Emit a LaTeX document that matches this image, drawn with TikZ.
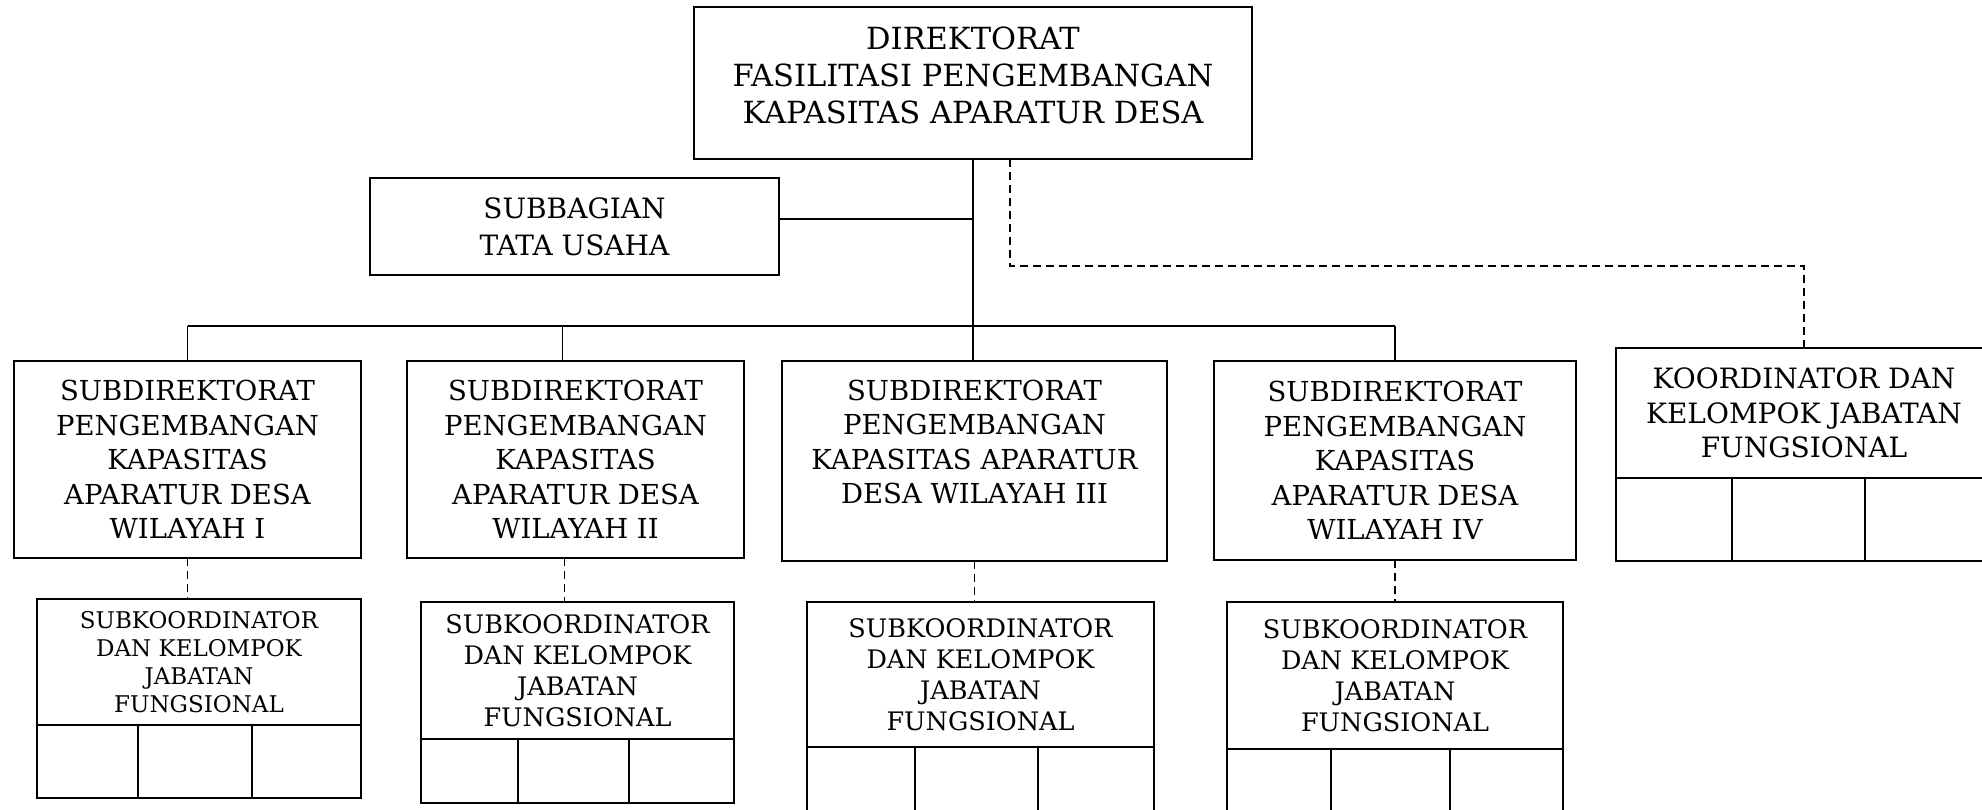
\documentclass[tikz,border=0pt]{standalone}
\usepackage{fontspec}
\setmainfont{DejaVu Serif}
\usetikzlibrary{positioning,calc}

\newcommand\txdir{\fontsize{30.5}{37}\selectfont}
\newcommand\txsub{\fontsize{28}{37}\selectfont}
\newcommand\txsd{\fontsize{27.5}{34.6}\selectfont}
\newcommand\txkoor{\fontsize{28}{34.2}\selectfont}
\newcommand\txska{\fontsize{23}{28}\selectfont}
\newcommand\txskb{\fontsize{25.5}{31}\selectfont}

\tikzset{
  box/.style={draw, line width=1.3pt, inner sep=0pt, outer sep=0pt, align=center, anchor=north west},
  lbl/.style={align=center, inner sep=0pt},
  link/.style={line width=1.3pt},
  dashlink/.style={line width=1.3pt, dash pattern=on 8pt off 5pt},
}

\begin{document}
\begin{tikzpicture}[x=1pt,y=-1pt]
\useasboundingbox (0,0) rectangle (1982,810);
\clip (0,0) rectangle (1982,810);

% direktorat and tata usaha
\node[box, minimum width=558pt, minimum height=152pt] (dir) at (694,7) {};
\node[lbl, font=\txdir] (dir-t) at ($(dir.center)+(0,-8)$) {DIREKTORAT\\FASILITASI PENGEMBANGAN\\KAPASITAS APARATUR DESA};
\node[box, font=\txsub, minimum width=409pt, minimum height=97pt] (tu) at (370,178) {SUBBAGIAN\\TATA USAHA};

% subdirektorat
\node[box, font=\txsd, minimum width=347pt, minimum height=197pt] (sd1) at (14,361) {SUBDIREKTORAT\\PENGEMBANGAN\\KAPASITAS\\APARATUR DESA\\WILAYAH I};
\node[box, font=\txsd, minimum width=337pt, minimum height=197pt] (sd2) at (407,361) {SUBDIREKTORAT\\PENGEMBANGAN\\KAPASITAS\\APARATUR DESA\\WILAYAH II};
\node[box, minimum width=385pt, minimum height=200pt] (sd3) at (782,361) {};
\node[lbl, font=\txsd] (sd3-t) at ($(sd3.center)+(0,-19)$) {SUBDIREKTORAT\\PENGEMBANGAN\\KAPASITAS APARATUR\\DESA WILAYAH III};
\node[box, font=\txsd, minimum width=362pt, minimum height=199pt] (sd4) at (1214,361) {SUBDIREKTORAT\\PENGEMBANGAN\\KAPASITAS\\APARATUR DESA\\WILAYAH IV};

% koordinator
\node[box, font=\txkoor, minimum width=376pt, minimum height=130pt] (koor) at (1616,348) {KOORDINATOR DAN\\KELOMPOK JABATAN\\FUNGSIONAL};
\node[box, minimum width=116pt, minimum height=83pt] (koor-a) at (koor.south west) {};
\node[box, minimum width=133pt, minimum height=83pt] (koor-b) at (koor-a.north east) {};
\node[box, minimum width=127pt, minimum height=83pt] (koor-c) at (koor-b.north east) {};

% subkoordinator
\node[box, font=\txska, minimum width=324pt, minimum height=126pt] (sk1) at (37,599) {SUBKOORDINATOR\\DAN KELOMPOK\\JABATAN\\FUNGSIONAL};
\node[box, minimum width=101pt, minimum height=73pt] (sk1-a) at (sk1.south west) {};
\node[box, minimum width=114pt, minimum height=73pt] (sk1-b) at (sk1-a.north east) {};
\node[box, minimum width=109pt, minimum height=73pt] (sk1-c) at (sk1-b.north east) {};

\node[box, font=\txskb, minimum width=313pt, minimum height=137pt] (sk2) at (421,602) {SUBKOORDINATOR\\DAN KELOMPOK\\JABATAN\\FUNGSIONAL};
\node[box, minimum width=97pt, minimum height=64pt] (sk2-a) at (sk2.south west) {};
\node[box, minimum width=111pt, minimum height=64pt] (sk2-b) at (sk2-a.north east) {};
\node[box, minimum width=105pt, minimum height=64pt] (sk2-c) at (sk2-b.north east) {};

\node[box, font=\txskb, minimum width=347pt, minimum height=145pt] (sk3) at (807,602) {SUBKOORDINATOR\\DAN KELOMPOK\\JABATAN\\FUNGSIONAL};
\node[box, minimum width=108pt, minimum height=80pt] (sk3-a) at (sk3.south west) {};
\node[box, minimum width=123pt, minimum height=80pt] (sk3-b) at (sk3-a.north east) {};
\node[box, minimum width=116pt, minimum height=80pt] (sk3-c) at (sk3-b.north east) {};

\node[box, font=\txskb, minimum width=336pt, minimum height=147pt] (sk4) at (1227,602) {SUBKOORDINATOR\\DAN KELOMPOK\\JABATAN\\FUNGSIONAL};
\node[box, minimum width=104pt, minimum height=80pt] (sk4-a) at (sk4.south west) {};
\node[box, minimum width=119pt, minimum height=80pt] (sk4-b) at (sk4-a.north east) {};
\node[box, minimum width=113pt, minimum height=80pt] (sk4-c) at (sk4-b.north east) {};

% solid lines
\coordinate (bus) at ($(dir.south)+(0,167)$);
\coordinate (tu-out) at ($(tu.east)+(0,-7.5)$);
\coordinate (sd2-in) at ($(sd2.north)+(-13,0)$);
\draw[link] (dir.south) -- (dir.south |- sd3.north);
\draw[link] (tu-out) -- (tu-out -| dir.south);
\draw[link] (sd1.north |- bus) -- (sd4.north |- bus);
\draw[link] (sd1.north |- bus) -- (sd1.north);
\draw[link] (sd2-in |- bus) -- (sd2-in);
\draw[link] (sd4.north |- bus) -- (sd4.north);

% dashed lines
\coordinate (dir-dash) at ($(dir.south)+(37,0)$);
\coordinate (sd2-out) at ($(sd2.south)+(-11,0)$);
\draw[dashlink] (dir-dash) -- ++(0,107) -| (koor.north);
\draw[dashlink] (sd1.south) -- (sd1.south |- sk1.north);
\draw[dashlink] (sd2-out) -- (sd2-out |- sk2.north);
\draw[dashlink] (sd3.south) -- (sd3.south |- sk3.north);
\draw[dashlink] (sd4.south) -- (sd4.south |- sk4.north);
\end{tikzpicture}
\end{document}
